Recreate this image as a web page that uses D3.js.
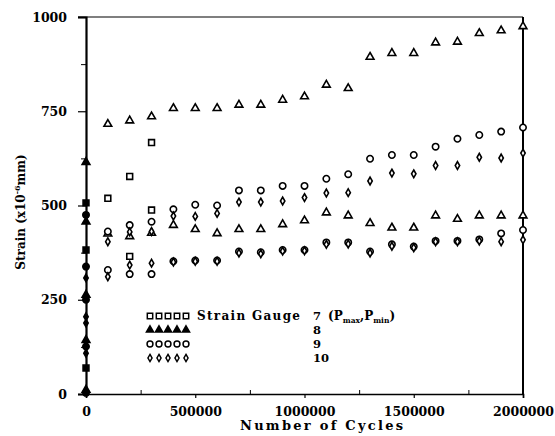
<!DOCTYPE html>
<html>
<head>
<meta charset="utf-8">
<script src="https://cdn.jsdelivr.net/npm/d3@7"></script>
<style>
  html, body { margin: 0; padding: 0; background: #fff; }
  svg { display: block; }
  text { font-family: "DejaVu Serif", "Liberation Serif", serif; font-weight: bold; fill: #000; }
</style>
</head>
<body>
<svg id="chart" width="555" height="436"></svg>
<script>
// ---------------- data ----------------
const cycles = [100000, 200000, 300000, 400000, 500000, 600000, 700000, 800000, 900000, 1000000,
                1100000, 1200000, 1300000, 1400000, 1500000, 1600000, 1700000, 1800000, 1900000, 2000000];

// Strain Gauge 7 (squares) - only readable for the first cycles
const gauge7Max = [519, 577, 667, null, null, null, null, null, null, null, null, null, null, null, null, null, null, null, null, null];
const gauge7Min = [null, 365, 488, null, null, null, null, null, null, null, null, null, null, null, null, null, null, null, null, null];
// Strain Gauge 8 (triangles)
const gauge8Max = [716, 725, 736, 758, 758, 758, 767, 767, 780, 789, 820, 811, 894, 904, 904, 932, 934, 957, 964, 975];
const gauge8Min = [425, 418, 427, 448, 437, 426, 437, 437, 450, 460, 481, 473, 453, 441, 441, 473, 464, 473, 473, 473];
// Strain Gauge 9 (circles)
const gauge9Max = [431, 448, 457, 490, 502, 500, 540, 540, 552, 552, 571, 583, 624, 634, 634, 656, 677, 687, 696, 707];
const gauge9Min = [329, 318, 318, 352, 354, 354, 378, 376, 382, 382, 402, 402, 378, 397, 391, 406, 406, 410, 426, 435];
// Strain Gauge 10 (diamonds)
const gauge10Max = [404, 430, 431, 472, 471, 479, 509, 509, 512, 521, 533, 534, 565, 586, 584, 606, 606, 628, 626, 639];
const gauge10Min = [311, 342, 347, 350, 352, 352, 374, 372, 379, 380, 397, 398, 374, 392, 388, 404, 404, 406, 404, 409];

// static loading readings at cycle 0
const static7 = [507, 382, 69];
const static8 = [615, 457, 263, 143, 11];
const static9 = [475, 338, 250, 126, 3];
const static10 = [308, 205, 188, 108];

const yTicks = [0, 250, 500, 750, 1000];
const yMinorTicks = [125, 375, 625, 875];
const xTicks = [0, 500000, 1000000, 1500000, 2000000];
const xMinorTicks = [250000, 750000, 1250000, 1750000];
const legendLabels = ["7", "8", "9", "10"];

// ---------------- drawing ----------------
const svg = d3.select("#chart");
const x = d3.scaleLinear().domain([0, 2000000]).range([86, 523]);
const y = d3.scaleLinear().domain([0, 1000]).range([394, 17]);

const shapes = {
  square: { type: d3.symbolSquare, size: 34 },
  triangle: { type: d3.symbolTriangle, size: 26 },
  circle: { type: d3.symbolCircle, size: 32 },
  diamond: { type: d3.symbolDiamond, size: 17 }
};

function drawPoints(xs, vals, shape, filled) {
  const pts = xs.map((c, i) => ({ c, v: vals[i] })).filter(d => d.v != null);
  const s = shapes[shape];
  svg.append("g").selectAll("path").data(pts).join("path")
    .attr("transform", d => `translate(${x(d.c)},${y(d.v)})`)
    .attr("d", d3.symbol().type(s.type).size(s.size))
    .attr("fill", filled ? "#000" : "#fff")
    .attr("stroke", "#000")
    .attr("stroke-width", 1.6);
}

// frame
svg.append("line").attr("x1", x(0) - 8).attr("x2", x(2000000)).attr("y1", y(1000)).attr("y2", y(1000))
  .attr("stroke", "#000").attr("stroke-width", 1.2);
svg.append("line").attr("x1", x(2000000)).attr("x2", x(2000000)).attr("y1", y(1000)).attr("y2", y(0))
  .attr("stroke", "#000").attr("stroke-width", 2);

// y axis
const yAxis = d3.axisLeft(y).tickValues(yTicks).tickSize(8).tickPadding(11).tickFormat(d3.format("d"));
const gy = svg.append("g").attr("transform", `translate(${x(0)},0)`).call(yAxis);
gy.select(".domain").attr("stroke", "#000").attr("stroke-width", 2.2);
gy.selectAll(".tick line").attr("stroke-width", 1.2);
gy.selectAll("text").style("font-size", "12.5px").attr("font-family", null);
const gy2 = svg.append("g").attr("transform", `translate(${x(0)},0)`)
  .call(d3.axisLeft(y).tickValues(yMinorTicks).tickSize(5).tickFormat(""));
gy2.select(".domain").remove();

// x axis
const xAxis = d3.axisBottom(x).tickValues(xTicks).tickSize(4).tickPadding(9).tickFormat(d3.format("d"));
const gx = svg.append("g").attr("transform", `translate(0,${y(0)})`).call(xAxis);
gx.select(".domain").attr("stroke", "#000").attr("stroke-width", 1.6);
gx.selectAll(".tick line").attr("stroke-width", 1.2);
gx.selectAll("text").style("font-size", "12.5px").attr("font-family", null);
const gx2 = svg.append("g").attr("transform", `translate(0,${y(0)})`)
  .call(d3.axisTop(x).tickValues(xMinorTicks).tickSize(4).tickFormat(""));
gx2.select(".domain").remove();

// axis titles
svg.append("text").attr("x", 240).attr("y", 430)
  .attr("textLength", 163).attr("lengthAdjust", "spacing")
  .style("font-size", "13px").text("Number of Cycles");
const yt = svg.append("text").attr("transform", "translate(25,212) rotate(-90)")
  .attr("text-anchor", "middle").style("font-size", "12px");
yt.append("tspan").text("Strain (x10");
yt.append("tspan").attr("dy", -5).style("font-size", "8px").text("-6");
yt.append("tspan").attr("dy", 5).text("mm)");

// data points
drawPoints(cycles, gauge7Max, "square", false);
drawPoints(cycles, gauge7Min, "square", false);
drawPoints(cycles, gauge8Max, "triangle", false);
drawPoints(cycles, gauge8Min, "triangle", false);
drawPoints(cycles, gauge9Min, "circle", false);
drawPoints(cycles, gauge10Min, "diamond", false);
drawPoints(cycles, gauge9Max, "circle", false);
drawPoints(cycles, gauge10Max, "diamond", false);
drawPoints(static7.map(() => 0), static7, "square", true);
drawPoints(static8.map(() => 0), static8, "triangle", true);
drawPoints(static9.map(() => 0), static9, "circle", true);
drawPoints(static10.map(() => 0), static10, "diamond", true);

// legend
const legendShapes = ["square", "triangle", "circle", "diamond"];
const legendY = [316, 330, 344, 358];
legendShapes.forEach((sh, r) => {
  const s = shapes[sh];
  svg.append("g").selectAll("path").data(d3.range(5)).join("path")
    .attr("transform", i => `translate(${150 + i * 9},${legendY[r]})`)
    .attr("d", d3.symbol().type(s.type).size(s.size * 0.85))
    .attr("fill", sh === "triangle" ? "#000" : "#fff")
    .attr("stroke", "#000").attr("stroke-width", 1.5);
});
svg.append("text").attr("x", 197).attr("y", legendY[0] + 4)
  .attr("textLength", 103).attr("lengthAdjust", "spacing")
  .style("font-size", "12px").text("Strain Gauge");
legendLabels.forEach((lab, r) => {
  svg.append("text").attr("x", 313).attr("y", legendY[r] + 4).style("font-size", "11.5px").text(lab);
});
const pt = svg.append("text").attr("x", 328).attr("y", legendY[0] + 4).style("font-size", "12px");
pt.append("tspan").text("(P");
pt.append("tspan").attr("dy", 3).style("font-size", "7.5px").text("max");
pt.append("tspan").attr("dy", -3).text(",P");
pt.append("tspan").attr("dy", 3).style("font-size", "7.5px").text("min");
pt.append("tspan").attr("dy", -3).text(")");
</script>
</body>
</html>
